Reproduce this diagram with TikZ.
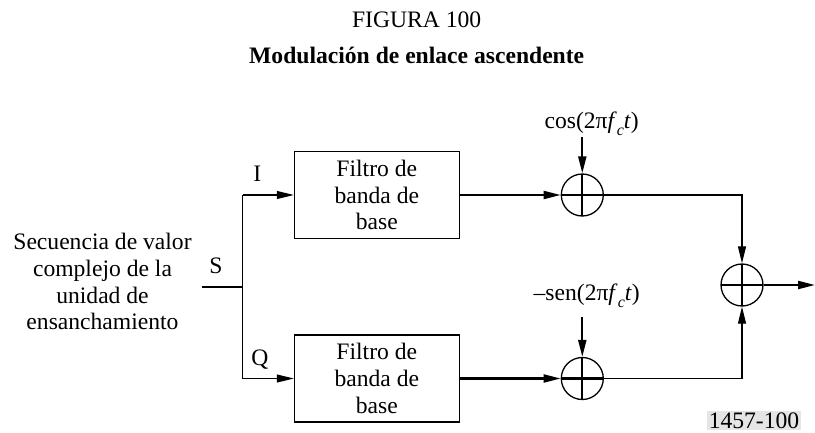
\documentclass[tikz,border=0pt]{standalone}
\usepackage{fontspec}
\setmainfont{Liberation Serif}
\usetikzlibrary{arrows.meta,calc}
\newcommand{\mysubc}{\raisebox{-0.28em}{\fontsize{16}{16}\selectfont\textit{c}}}
\begin{document}
\begin{tikzpicture}[x=1pt,y=-1pt,
  every node/.style={font=\fontsize{23.6}{26.7}\selectfont},
  thinline/.style={line width=1.1pt},
  thickline/.style={line width=2.1pt},
  tip/.style={-{Triangle[length=17pt,width=8pt]}},
  filterbox/.style={draw,line width=1.1pt,minimum width=165pt,minimum height=87pt,align=center,inner sep=0pt},
  summer/.style={draw,circle,line width=1.3pt,minimum size=42pt,inner sep=0pt,
     path picture={\draw[line width=2.1pt] (path picture bounding box.north) -- (path picture bounding box.south)
       (path picture bounding box.west) -- (path picture bounding box.east);}},
  lbl/.style={inner sep=0pt}
]
\useasboundingbox (0,0) rectangle (815,432);

% titles
\node (t1) at (416.7,20) {FIGURA 100};
\node[font=\fontsize{23.6}{26.7}\selectfont\bfseries] (t2) at (416.7,55) {Modulación de enlace ascendente};

% input text
\node[align=center,inner sep=0pt] (src) at (102.5,281.8) {Secuencia de valor\\complejo de la\\unidad de\\ensanchamiento};

% branch
\coordinate (sin) at (201.7,286.7);
\coordinate (br) at (242.7,286.7);
\coordinate (brtop) at (242.7,195);
\coordinate (brbot) at (242.7,378.5);
\node[lbl] (S) at (216,266) {S};
\node[lbl] (I) at (257.3,173.3) {I};
\node[lbl] (Q) at (260,360) {Q};

% filters
\node[filterbox] (f1) at (376.8,195) {Filtro de\\banda de\\base};
\node[filterbox] (f2) at (376.8,378.5) {Filtro de\\banda de\\base};

% multipliers
\node[summer] (m1) at (582.3,195) {};
\node[summer] (m2) at (582.3,378.5) {};
\node[summer] (sum) at (742,285) {};

% carrier labels
\node[lbl] (cosl) at (591.7,124) {cos(2π\textit{f}\mysubc\textit{t})};
\node[lbl] (senl) at (586.7,296) {–sen(2π\textit{f}\mysubc\textit{t})};

\coordinate (out) at (815,285);

% connectors
\draw[thickline] (sin) -- (br);
\draw[thinline] (brtop) -- (brbot);
\draw[thinline,tip] (brtop) -- (f1.west);
\draw[thinline,tip] (brbot) -- (f2.west);
\draw[thickline,tip] (f1.east) -- (m1.west);
\draw[thickline,tip] (f2.east) -- (m2.west);
\draw[thickline,tip] ($(cosl.south -| m1.north)+(0,1)$) -- (m1.north);
\draw[thickline,tip] ($(senl.south -| m2.north)+(0,9)$) -- (m2.north);
\draw[thinline,tip] (m1.east) -| (sum.north);
\draw[thinline,tip] (m2.east) -| (sum.south);
\draw[thickline,tip] (sum.east) -- (out);

% figure number
\node[fill=black!10,inner sep=0pt,minimum width=93.3pt,minimum height=19pt] (num) at (754,420.5) {1457-100};
\end{tikzpicture}
\end{document}
